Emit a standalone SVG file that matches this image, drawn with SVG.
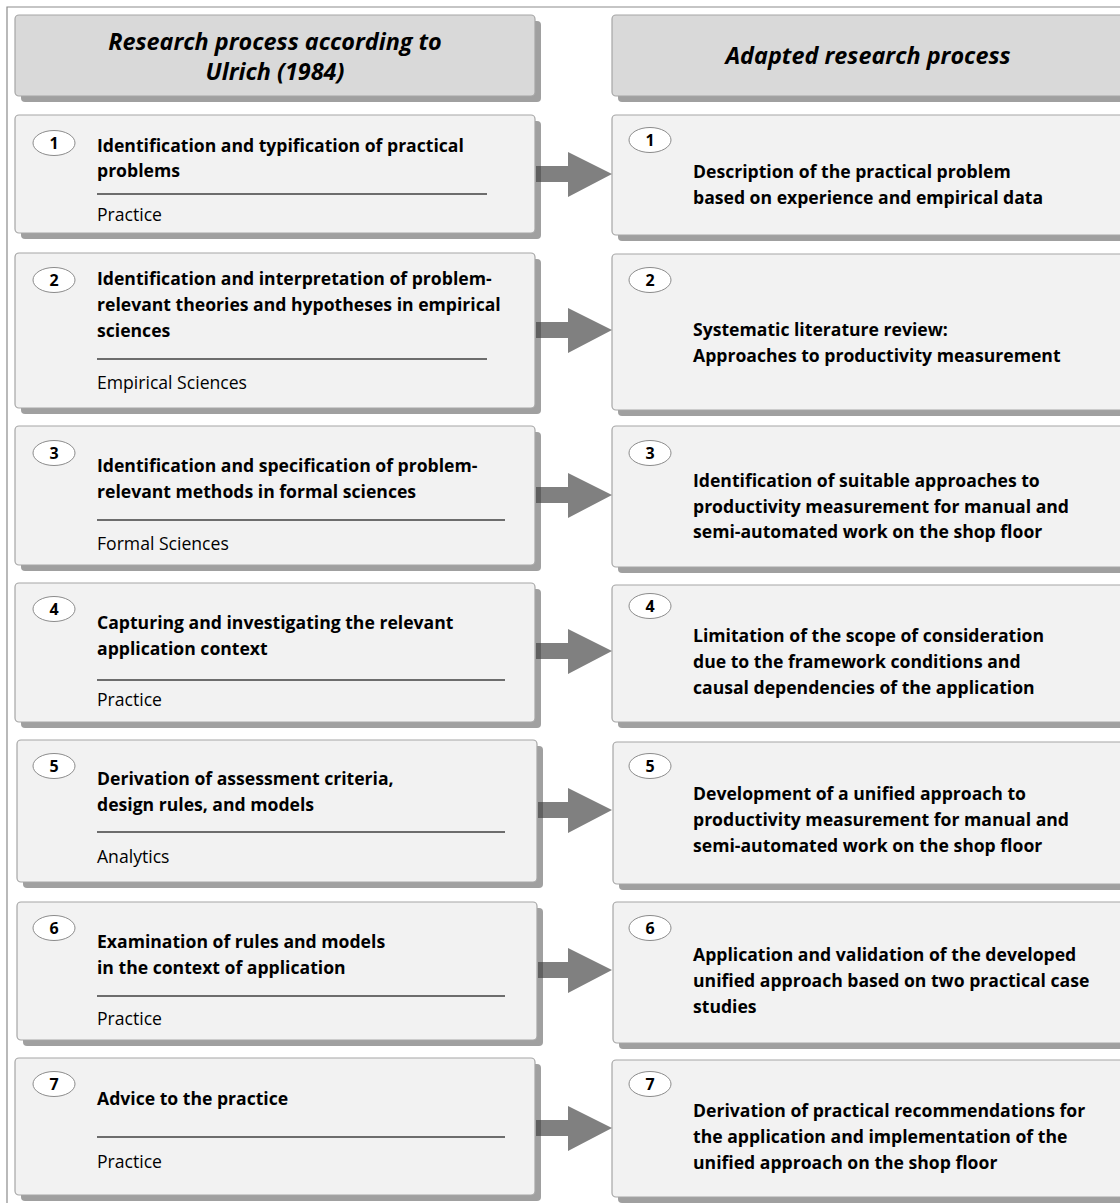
<svg xmlns="http://www.w3.org/2000/svg" width="1120" height="1203" viewBox="0 0 1120 1203">
<defs>
<style>
.frame{fill:none;stroke:#8c8c8c;stroke-width:1.2}
.shadow{fill:#a0a0a0}
.hdr{fill:#d9d9d9;stroke:#a6a6a6;stroke-width:1.2}
.box{fill:#f2f2f2;stroke:#a6a6a6;stroke-width:1.2}
.num{fill:#ffffff;stroke:#8c8c8c;stroke-width:1}
.numt{font-family:"Open Sans","Noto Sans",sans-serif;font-size:16px;font-weight:bold;fill:#000;text-anchor:middle}
.ht{font-family:"Open Sans","Noto Sans",sans-serif;font-size:23.4px;font-weight:bold;font-style:italic;fill:#000;text-anchor:middle}
.bt{font-family:"Open Sans","Noto Sans",sans-serif;font-size:17.6px;font-weight:bold;fill:#000}
.st{font-family:"Open Sans","Noto Sans",sans-serif;font-size:17.6px;fill:#000}
.div{stroke:#404040;stroke-width:1.3}
.arr{fill:#808080}
.arrd{fill:#606060}
</style>
</defs>
<rect width="1120" height="1203" fill="#ffffff"/>
<path class="frame" d="M7,1203 V7 H1120"/>

<g id="header-left">
<rect class="shadow" x="21" y="21" width="520" height="81" rx="4"/>
<rect class="hdr" x="15" y="15" width="520" height="81" rx="4"/>
<text class="ht" x="275" y="50">Research process according to</text>
<text class="ht" x="275" y="80">Ulrich (1984)</text>
</g>
<g id="header-right">
<rect class="shadow" x="618" y="21" width="520" height="81" rx="4"/>
<rect class="hdr" x="612" y="15" width="520" height="81" rx="4"/>
<text class="ht" x="868" y="64">Adapted research process</text>
</g>

<g id="left-1">
<rect class="shadow" x="21" y="121" width="520" height="118" rx="4"/>
<rect class="box" x="15" y="115" width="520" height="118" rx="4"/>
<ellipse class="num" cx="54" cy="143" rx="21" ry="12.5"/>
<text class="numt" x="54" y="149">1</text>
<text class="bt" x="97" y="152">Identification and typification of practical</text>
<text class="bt" x="97" y="177">problems</text>
<line class="div" x1="97" y1="194" x2="487" y2="194"/>
<text class="st" x="97" y="221">Practice</text>
</g>
<g id="right-1">
<rect class="shadow" x="618" y="121" width="520" height="120" rx="4"/>
<rect class="box" x="612" y="115" width="520" height="120" rx="4"/>
<ellipse class="num" cx="650" cy="140" rx="21" ry="12.5"/>
<text class="numt" x="650" y="146">1</text>
<text class="bt" x="693" y="178">Description of the practical problem</text>
<text class="bt" x="693" y="204">based on experience and empirical data</text>
</g>

<g id="left-2">
<rect class="shadow" x="21" y="259" width="520" height="155" rx="4"/>
<rect class="box" x="15" y="253" width="520" height="155" rx="4"/>
<ellipse class="num" cx="54" cy="280" rx="21" ry="12.5"/>
<text class="numt" x="54" y="286">2</text>
<text class="bt" x="97" y="285">Identification and interpretation of problem-</text>
<text class="bt" x="97" y="311">relevant theories and hypotheses in empirical</text>
<text class="bt" x="97" y="337">sciences</text>
<line class="div" x1="97" y1="359" x2="487" y2="359"/>
<text class="st" x="97" y="389">Empirical Sciences</text>
</g>
<g id="right-2">
<rect class="shadow" x="618" y="260" width="520" height="156" rx="4"/>
<rect class="box" x="612" y="254" width="520" height="156" rx="4"/>
<ellipse class="num" cx="650" cy="280" rx="21" ry="12.5"/>
<text class="numt" x="650" y="286">2</text>
<text class="bt" x="693" y="336">Systematic literature review:</text>
<text class="bt" x="693" y="362">Approaches to productivity measurement</text>
</g>

<g id="left-3">
<rect class="shadow" x="21" y="432" width="520" height="139" rx="4"/>
<rect class="box" x="15" y="426" width="520" height="139" rx="4"/>
<ellipse class="num" cx="54" cy="453" rx="21" ry="12.5"/>
<text class="numt" x="54" y="459">3</text>
<text class="bt" x="97" y="472">Identification and specification of problem-</text>
<text class="bt" x="97" y="498">relevant methods in formal sciences</text>
<line class="div" x1="97" y1="520" x2="505" y2="520"/>
<text class="st" x="97" y="550">Formal Sciences</text>
</g>
<g id="right-3">
<rect class="shadow" x="618" y="432" width="520" height="141" rx="4"/>
<rect class="box" x="612" y="426" width="520" height="141" rx="4"/>
<ellipse class="num" cx="650" cy="453" rx="21" ry="12.5"/>
<text class="numt" x="650" y="459">3</text>
<text class="bt" x="693" y="487">Identification of suitable approaches to</text>
<text class="bt" x="693" y="513">productivity measurement for manual and</text>
<text class="bt" x="693" y="538">semi-automated work on the shop floor</text>
</g>

<g id="left-4">
<rect class="shadow" x="21" y="589" width="520" height="139" rx="4"/>
<rect class="box" x="15" y="583" width="520" height="139" rx="4"/>
<ellipse class="num" cx="54" cy="609" rx="21" ry="12.5"/>
<text class="numt" x="54" y="615">4</text>
<text class="bt" x="97" y="629">Capturing and investigating the relevant</text>
<text class="bt" x="97" y="655">application context</text>
<line class="div" x1="97" y1="680" x2="505" y2="680"/>
<text class="st" x="97" y="706">Practice</text>
</g>
<g id="right-4">
<rect class="shadow" x="618" y="591" width="520" height="137" rx="4"/>
<rect class="box" x="612" y="585" width="520" height="137" rx="4"/>
<ellipse class="num" cx="650" cy="606" rx="21" ry="12.5"/>
<text class="numt" x="650" y="612">4</text>
<text class="bt" x="693" y="642">Limitation of the scope of consideration</text>
<text class="bt" x="693" y="668">due to the framework conditions and</text>
<text class="bt" x="693" y="694">causal dependencies of the application</text>
</g>

<g id="left-5">
<rect class="shadow" x="23" y="746" width="520" height="142" rx="4"/>
<rect class="box" x="17" y="740" width="520" height="142" rx="4"/>
<ellipse class="num" cx="54" cy="766" rx="21" ry="12.5"/>
<text class="numt" x="54" y="772">5</text>
<text class="bt" x="97" y="785">Derivation of assessment criteria,</text>
<text class="bt" x="97" y="811">design rules, and models</text>
<line class="div" x1="97" y1="832" x2="505" y2="832"/>
<text class="st" x="97" y="863">Analytics</text>
</g>
<g id="right-5">
<rect class="shadow" x="619" y="748" width="520" height="142" rx="4"/>
<rect class="box" x="613" y="742" width="520" height="142" rx="4"/>
<ellipse class="num" cx="650" cy="766" rx="21" ry="12.5"/>
<text class="numt" x="650" y="772">5</text>
<text class="bt" x="693" y="800">Development of a unified approach to</text>
<text class="bt" x="693" y="826">productivity measurement for manual and</text>
<text class="bt" x="693" y="852">semi-automated work on the shop floor</text>
</g>

<g id="left-6">
<rect class="shadow" x="23" y="908" width="520" height="138" rx="4"/>
<rect class="box" x="17" y="902" width="520" height="138" rx="4"/>
<ellipse class="num" cx="54" cy="928" rx="21" ry="12.5"/>
<text class="numt" x="54" y="934">6</text>
<text class="bt" x="97" y="948">Examination of rules and models</text>
<text class="bt" x="97" y="974">in the context of application</text>
<line class="div" x1="97" y1="996" x2="505" y2="996"/>
<text class="st" x="97" y="1025">Practice</text>
</g>
<g id="right-6">
<rect class="shadow" x="619" y="908" width="520" height="141" rx="4"/>
<rect class="box" x="613" y="902" width="520" height="141" rx="4"/>
<ellipse class="num" cx="650" cy="928" rx="21" ry="12.5"/>
<text class="numt" x="650" y="934">6</text>
<text class="bt" x="693" y="961">Application and validation of the developed</text>
<text class="bt" x="693" y="987">unified approach based on two practical case</text>
<text class="bt" x="693" y="1013">studies</text>
</g>

<g id="left-7">
<rect class="shadow" x="21" y="1064" width="520" height="137" rx="4"/>
<rect class="box" x="15" y="1058" width="520" height="137" rx="4"/>
<ellipse class="num" cx="54" cy="1084" rx="21" ry="12.5"/>
<text class="numt" x="54" y="1090">7</text>
<text class="bt" x="97" y="1105">Advice to the practice</text>
<line class="div" x1="97" y1="1137" x2="505" y2="1137"/>
<text class="st" x="97" y="1168">Practice</text>
</g>
<g id="right-7">
<rect class="shadow" x="618" y="1066" width="520" height="137" rx="4"/>
<rect class="box" x="612" y="1060" width="520" height="137" rx="4"/>
<ellipse class="num" cx="650" cy="1084" rx="21" ry="12.5"/>
<text class="numt" x="650" y="1090">7</text>
<text class="bt" x="693" y="1117">Derivation of practical recommendations for</text>
<text class="bt" x="693" y="1143">the application and implementation of the</text>
<text class="bt" x="693" y="1169">unified approach on the shop floor</text>
</g>

<g id="connectors">
<path class="arr" d="M536,166 H568 V152 L612,174 L568,197 V182 H536 Z"/>
<rect class="arrd" x="536" y="166" width="5" height="16"/>
<path class="arr" d="M536,322 H568 V308 L612,330 L568,353 V338 H536 Z"/>
<rect class="arrd" x="536" y="322" width="5" height="16"/>
<path class="arr" d="M536,487 H568 V473 L612,495 L568,518 V503 H536 Z"/>
<rect class="arrd" x="536" y="487" width="5" height="16"/>
<path class="arr" d="M536,643 H568 V629 L612,651 L568,674 V659 H536 Z"/>
<rect class="arrd" x="536" y="643" width="5" height="16"/>
<path class="arr" d="M538,802 H568 V788 L612,810 L568,833 V818 H538 Z"/>
<rect class="arrd" x="538" y="802" width="5" height="16"/>
<path class="arr" d="M538,962 H568 V948 L612,970 L568,993 V978 H538 Z"/>
<rect class="arrd" x="538" y="962" width="5" height="16"/>
<path class="arr" d="M536,1120 H568 V1106 L612,1128 L568,1151 V1136 H536 Z"/>
<rect class="arrd" x="536" y="1120" width="5" height="16"/>
</g>
</svg>
